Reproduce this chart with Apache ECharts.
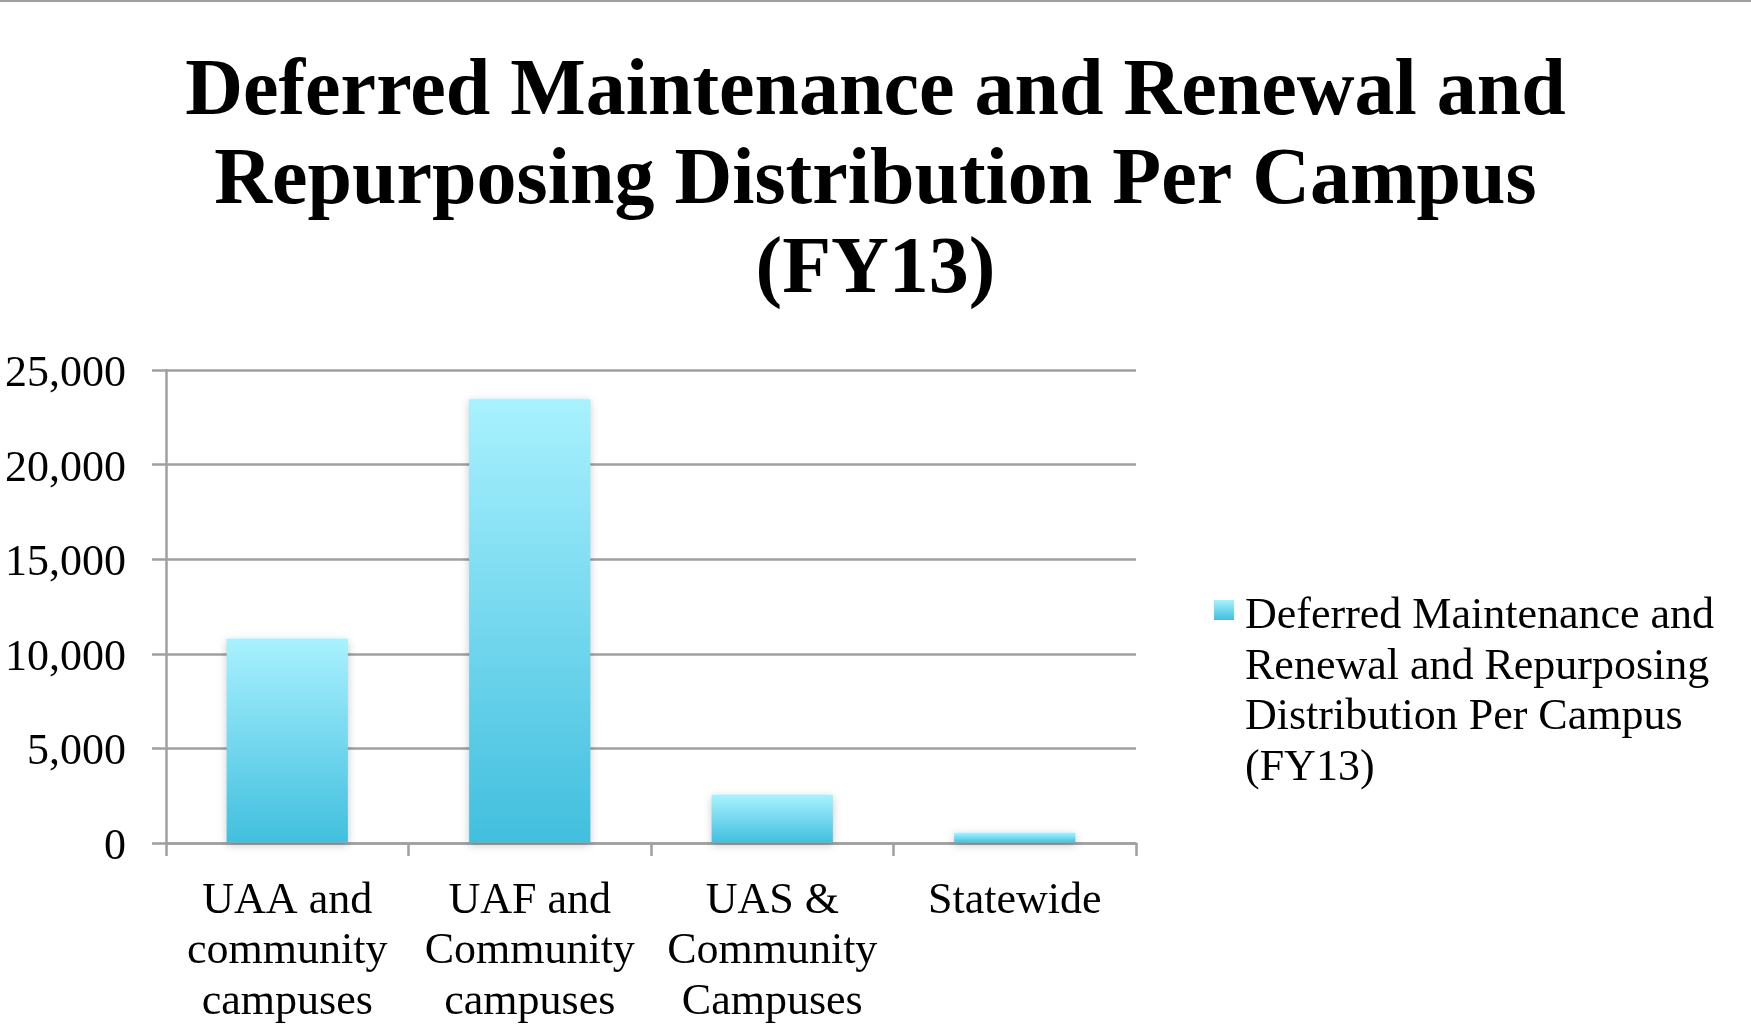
<!DOCTYPE html>
<html>
<head>
<meta charset="utf-8">
<style>html,body{margin:0;padding:0;background:#fff;}#c{width:1751px;height:1035px;}</style>
<script src="https://cdn.jsdelivr.net/npm/echarts@6/dist/echarts.min.js"></script>
</head>
<body>
<div id="c"></div>
<script>
const titleText = 'Deferred Maintenance and Renewal and\nRepurposing Distribution Per Campus\n(FY13)';
const seriesName = 'Deferred Maintenance and Renewal and Repurposing Distribution Per Campus (FY13)';
const legendLabel = 'Deferred Maintenance and\nRenewal and Repurposing\nDistribution Per Campus\n(FY13)';
const categories = ['UAA and\ncommunity\ncampuses', 'UAF and\nCommunity\ncampuses', 'UAS &\nCommunity\nCampuses', 'Statewide'];
const values = [10800, 23450, 2550, 545];
const yTicks = [0, 5000, 10000, 15000, 20000, 25000];

const FONT = 'Liberation Serif';
const gridColor = '#a0a0a0';
function barGradient() {
  return new echarts.graphic.LinearGradient(0, 0, 0, 1, [
    { offset: 0, color: '#a9f1fe' },
    { offset: 1, color: '#41bfde' }
  ]);
}
// legend icon: 20px square near the top of a box as tall as the 4-line legend text
const LEG_H = 202, LEG_W = 26, SQ_TOP = 8.5, SQ = 20;
const legendIcon = 'path://M0,0L0.01,0L0,0.01Z M0,' + SQ_TOP + 'L' + SQ + ',' + SQ_TOP + 'L' + SQ + ',' + (SQ_TOP + SQ) + 'L0,' + (SQ_TOP + SQ) + 'Z M' + (LEG_W - 0.01) + ',' + (LEG_H - 0.01) + 'L' + LEG_W + ',' + (LEG_H - 0.01) + 'L' + LEG_W + ',' + LEG_H + 'Z';

const chart = echarts.init(document.getElementById('c'));
chart.setOption({
  backgroundColor: '#ffffff',
  animation: false,
  graphic: [{
    type: 'rect', shape: { x: 0, y: 0, width: 1751, height: 2 },
    style: { fill: '#a0a0a0' }, silent: true
  }],
  title: {
    text: titleText,
    left: 'center',
    top: 44,
    textStyle: { fontFamily: FONT, fontWeight: 'bold', fontSize: 80, lineHeight: 89, color: '#000' }
  },
  legend: {
    orient: 'vertical',
    left: 1214,
    top: 591.5,
    padding: 0,
    itemWidth: LEG_W,
    itemHeight: LEG_H,
    icon: legendIcon,
    symbolKeepAspect: false,
    formatter: function () { return legendLabel; },
    itemStyle: {
      color: new echarts.graphic.LinearGradient(0, SQ_TOP / LEG_H, 0, (SQ_TOP + SQ) / LEG_H, [
        { offset: 0, color: '#a9f1fe' },
        { offset: 1, color: '#41bfde' }
      ])
    },
    textStyle: { fontFamily: FONT, fontSize: 44, lineHeight: 50.5, color: '#000' },
    data: [seriesName]
  },
  grid: { left: 166, right: 615, top: 370, bottom: 192, containLabel: false },
  xAxis: {
    type: 'category',
    data: categories,
    axisLine: { show: true, lineStyle: { color: gridColor, width: 2.5 } },
    axisTick: { show: true, length: 13, lineStyle: { color: gridColor, width: 2.5 } },
    axisLabel: { margin: 33, fontFamily: FONT, fontSize: 44, lineHeight: 50.5, color: '#000', interval: 0, verticalAlign: 'top' }
  },
  yAxis: {
    type: 'value',
    min: yTicks[0],
    max: yTicks[yTicks.length - 1],
    interval: 5000,
    axisLine: { show: true, lineStyle: { color: gridColor, width: 2.5 } },
    axisTick: { show: true, length: 14, lineStyle: { color: gridColor, width: 2.5 } },
    splitLine: { show: true, lineStyle: { color: gridColor, width: 2.5 } },
    axisLabel: {
      margin: 40, fontFamily: FONT, fontSize: 44, color: '#000', verticalAlign: 'top', lineHeight: 9,
      formatter: function (v) { return v.toLocaleString('en-US'); }
    }
  },
  series: [{
    name: seriesName,
    type: 'bar',
    data: values,
    barWidth: '50%',
    itemStyle: {
      color: barGradient(),
      shadowBlur: 8,
      shadowColor: 'rgba(0,0,0,0.22)',
      shadowOffsetY: 2
    }
  }]
});
</script>
</body>
</html>
